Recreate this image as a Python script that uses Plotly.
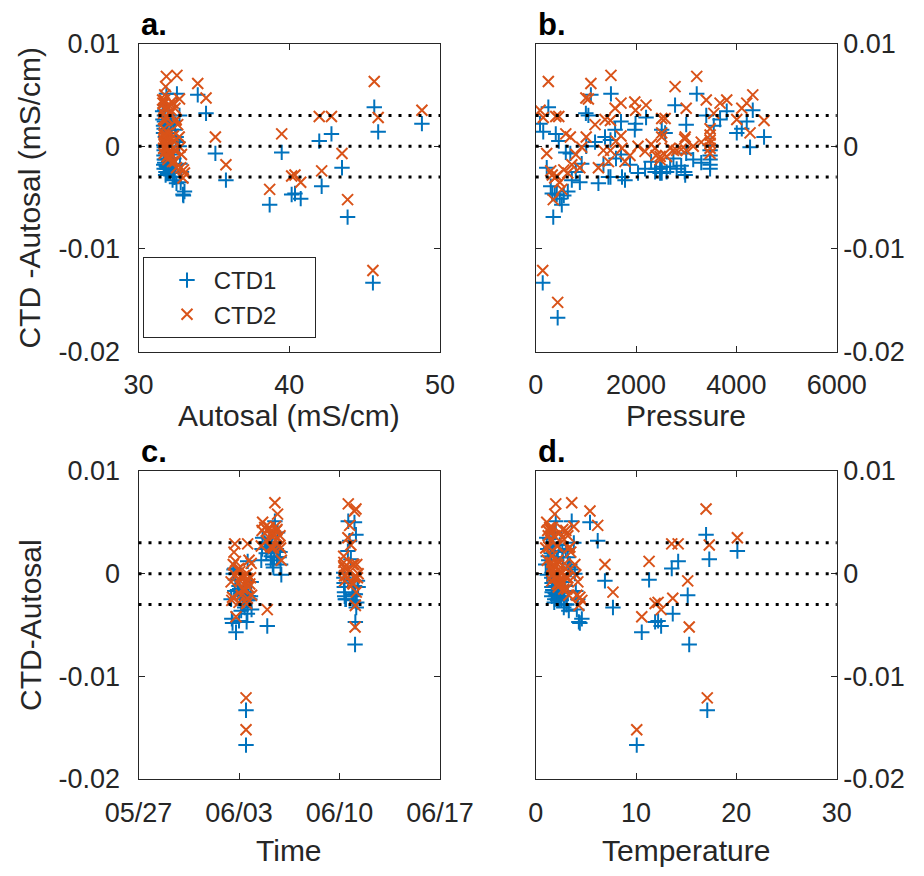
import plotly.graph_objects as go

# ---------------------------------------------------------
# Bottle samples: CTD minus Autosal conductivity residuals
# ---------------------------------------------------------

autosal = [
    33.93, 34.48, 35.10, 35.80, 38.70, 38.50, 39.50, 40.16, 40.38, 40.76,
    41.99, 42.15, 42.80, 43.50, 43.87, 45.64, 45.90, 45.55, 48.80,
    32.55, 31.80, 31.62, 31.60, 31.66, 31.70, 31.72, 31.74, 31.71, 31.78,
    32.30, 32.18, 32.16, 32.42, 32.46, 32.50, 31.92, 31.80, 31.90, 31.72,
    31.66, 32.02, 32.72,
    31.68, 31.70, 31.69, 31.71, 31.67, 31.70, 31.85, 31.96, 31.93, 31.92,
    31.86, 31.88, 31.80, 31.81, 31.77, 31.82, 31.98, 32.95,
    32.70, 32.60, 32.75, 32.52, 32.47, 32.40, 32.39, 32.30, 32.26, 32.20,
    32.10, 32.05, 31.95, 31.94, 31.90, 31.85, 32.35, 32.00, 31.84, 31.74,
    32.85, 32.31, 33.05, 32.98, 32.80,
]

pressure = [
    1100, 1000, 690, 720, 520, 438, 600, 420, 330, 480,
    460, 300, 400, 220, 350, 252, 150, 140, 86,
    1500, 2778, 3675, 3808, 4008, 4108, 4207, 4327, 4273, 4552,
    1700, 1975, 1990, 1583, 1490, 1382, 2512, 3000, 2580, 3400,
    3550, 2200, 1050,
    3476, 3476, 3476, 3476, 3476, 3476, 3210, 2400, 2480, 2512,
    2745, 2680, 2980, 3000, 3140, 2970, 2380, 380,
    1007, 1183, 917, 1250, 1350, 1450, 1490, 1720, 1780, 1880,
    2040, 2180, 2480, 2512, 2610, 2810, 1600, 2300, 2900, 3300,
    800, 1700, 640, 560, 880,
]

sample_time = [
    "2018-06-11 01:00", "2018-06-10 17:00", "2018-06-10 22:00", "2018-06-11 04:00",
    "2018-06-02 19:00", "2018-06-03 11:45", "2018-06-02 18:00", "2018-06-03 12:45",
    "2018-06-03 00:00", "2018-06-04 23:15", "2018-06-02 17:00", "2018-06-03 14:00",
    "2018-06-03 14:30", "2018-06-03 02:00", "2018-06-11 02:00", "2018-06-11 03:30",
    "2018-06-10 19:00", "2018-06-03 11:45", "2018-06-10 14:00",
    "2018-06-05 12:00", "2018-06-05 16:30", "2018-06-05 00:00", "2018-06-05 02:30",
    "2018-06-05 05:00", "2018-06-05 06:00", "2018-06-04 14:30", "2018-06-04 15:30",
    "2018-06-05 22:45", "2018-06-05 21:30", "2018-06-05 14:30", "2018-06-05 15:30",
    "2018-06-05 16:45", "2018-06-05 10:45", "2018-06-05 09:30", "2018-06-05 08:30",
    "2018-06-05 19:00", "2018-06-05 20:30", "2018-06-04 13:15", "2018-06-04 19:00",
    "2018-06-04 21:30", "2018-06-05 07:00", "2018-06-05 13:15",
    "2018-06-10 07:00", "2018-06-10 07:20", "2018-06-10 07:40", "2018-06-10 08:00",
    "2018-06-10 08:20", "2018-06-10 08:40", "2018-06-10 14:40", "2018-06-10 21:30",
    "2018-06-10 22:50", "2018-06-11 00:00", "2018-06-11 01:10", "2018-06-11 02:30",
    "2018-06-11 04:50", "2018-06-11 06:00", "2018-06-11 07:10", "2018-06-10 09:40",
    "2018-06-10 10:50", "2018-06-11 02:30",
    "2018-06-02 14:24", "2018-06-02 15:36", "2018-06-02 16:48", "2018-06-03 03:36",
    "2018-06-03 04:48", "2018-06-03 06:00", "2018-06-03 07:12", "2018-06-03 08:24",
    "2018-06-03 09:36", "2018-06-03 10:48", "2018-06-03 13:12", "2018-06-03 14:24",
    "2018-06-03 15:36", "2018-06-03 16:48", "2018-06-03 18:00", "2018-06-03 19:12",
    "2018-06-03 00:00", "2018-06-03 01:12", "2018-06-03 02:24", "2018-06-02 21:36",
    "2018-06-02 10:48", "2018-06-03 20:24", "2018-06-02 12:00", "2018-06-02 13:12",
    "2018-06-03 21:00",
]

temperature = [
    5.41, 6.18, 6.90, 7.70, 10.57, 10.07, 11.30, 11.90, 12.20, 12.50,
    13.56, 13.66, 14.20, 15.15, 15.30, 16.98, 17.30, 17.10, 20.10,
    3.59, 1.90, 1.50, 1.40, 1.30, 1.25, 1.20, 1.10, 1.15, 1.00,
    3.00, 2.70, 2.65, 3.20, 3.30, 3.40, 2.20, 1.85, 2.10, 1.65,
    1.55, 2.40, 3.80,
    1.62, 1.60, 1.63, 1.61, 1.64, 1.60, 2.00, 2.30, 2.25, 2.20,
    2.00, 2.05, 1.85, 1.85, 1.75, 1.90, 2.35, 4.30,
    3.90, 3.50, 4.00, 3.30, 3.20, 3.10, 3.05, 2.85, 2.80, 2.70,
    2.55, 2.45, 2.25, 2.20, 2.15, 2.00, 2.95, 2.35, 1.95, 1.70,
    4.20, 2.90, 4.60, 4.40, 4.10,
]

ctd1_diff = [
    0.0050, 0.0032, -0.0007, -0.0033, -0.0057, -0.0167, -0.0006, -0.0047, -0.0046, -0.0051,
    0.0005, -0.0039, 0.0012, -0.0021, -0.0069, 0.0038, 0.0014, -0.0133, 0.0022,
    0.0051, 0.0040, 0.0026, 0.0034, 0.0013, 0.0017, 0.0024, 0.0035, -0.0001, 0.0009,
    0.0024, 0.0016, 0.0022, 0.0016, 0.0006, 0.0009, 0.0016, 0.0021, 0.0013, 0.0030,
    0.0020, 0.0028, 0.0030,
    0.0001, -0.0004, -0.0009, -0.0013, -0.0018, -0.0022, 0.0051, -0.0022, -0.0026, -0.0020,
    -0.0012, -0.0020, -0.0028, -0.0007, -0.0013, -0.0025, -0.0025, -0.0047,
    0.0000, 0.0004, -0.0017, -0.0036, -0.0018, -0.0030, -0.0030, -0.0030, -0.0033, -0.0018,
    -0.0026, -0.0022, -0.0022, -0.0026, -0.0025, -0.0022, -0.0012, -0.0015, -0.0019, -0.0016,
    -0.0025, -0.0008, -0.0044, -0.0048, -0.0035,
]

ctd2_diff = [
    0.0061, 0.0047, 0.0009, -0.0018, -0.0042, -0.0152, 0.0012, -0.0029, -0.0028, -0.0035,
    0.0029, -0.0024, 0.0029, -0.0007, -0.0052, 0.0063, 0.0028, -0.0121, 0.0035,
    0.0069, 0.0058, 0.0042, 0.0045, 0.0026, 0.0037, 0.0042, 0.0050, 0.0013, 0.0025,
    0.0042, 0.0043, 0.0035, 0.0037, 0.0025, 0.0026, 0.0027, 0.0037, 0.0027, 0.0045,
    0.0032, 0.0040, 0.0046,
    0.0017, 0.0011, 0.0006, 0.0003, -0.0002, -0.0007, 0.0068, -0.0009, -0.0010, 0.0009,
    -0.0004, -0.0002, 0.0009, -0.0004, 0.0000, 0.0007, -0.0002, -0.0031,
    0.0009, 0.0021, -0.0001, -0.0021, -0.0004, -0.0015, -0.0004, -0.0002, -0.0015, -0.0009,
    0.0000, -0.0005, -0.0013, 0.0013, -0.0010, -0.0004, 0.0005, 0.0002, -0.0003, 0.0004,
    -0.0008, 0.0010, -0.0026, -0.0023, -0.0021,
]

REF_LEVELS = [-0.003, 0, 0.003]

Y_TICKS = [-0.02, -0.01, 0, 0.01]
Y_TICK_TEXT = ["-0.02", "-0.01", "0", "0.01"]

AUTOSAL_TICKS = [30, 40, 50]
PRESSURE_TICKS = [0, 2000, 4000, 6000]
TIME_TICKS = ["2018-05-27", "2018-06-03", "2018-06-10", "2018-06-17"]
TIME_TICK_TEXT = ["05/27", "06/03", "06/10", "06/17"]
TEMPERATURE_TICKS = [0, 10, 20, 30]


# ---------------------------------------------------------
# Styling and page geometry
# ---------------------------------------------------------

FONT = "Liberation Sans, Arial, sans-serif"
INK = "#262626"
BLUE = "#0072BD"
ORANGE = "#D95319"

W, H = 924, 876
PAGE_MARGIN = 8  # the html body margin shifts the plot by this much


def px_x(p):
    """Screen x pixel -> paper coordinate."""
    return (p - PAGE_MARGIN) / W


def px_y(p):
    """Screen y pixel -> paper coordinate."""
    return 1 - (p - PAGE_MARGIN) / H


LEFT_DOMAIN = [px_x(138.5), px_x(440)]
RIGHT_DOMAIN = [px_x(535.7), px_x(836.7)]
TOP_DOMAIN = [px_y(351.7), px_y(43.5)]
BOTTOM_DOMAIN = [px_y(779), px_y(471)]

axis_style = dict(
    showline=True,
    linecolor=INK,
    linewidth=1.3,
    mirror="allticks",
    ticks="inside",
    ticklen=6,
    tickwidth=1.3,
    tickcolor=INK,
    showgrid=False,
    zeroline=False,
    automargin=False,
    tickfont=dict(family=FONT, size=27, color=INK),
)


# ---------------------------------------------------------
# Figure
# ---------------------------------------------------------

panels = [
    ("", autosal),
    ("2", pressure),
    ("3", sample_time),
    ("4", temperature),
]

NB = "\u00a0"

fig = go.Figure()

for i, (ax, x_values) in enumerate(panels):
    fig.add_trace(
        go.Scatter(
            x=x_values,
            y=ctd1_diff,
            mode="markers",
            name=NB + "CTD1" + NB * 5,
            marker=dict(symbol="cross-thin", size=11, line=dict(width=2, color=BLUE)),
            xaxis="x" + ax,
            yaxis="y" + ax,
            showlegend=(i == 0),
        )
    )
    fig.add_trace(
        go.Scatter(
            x=x_values,
            y=ctd2_diff,
            mode="markers",
            name=NB + "CTD2" + NB * 5,
            marker=dict(symbol="x-thin", size=11, line=dict(width=2, color=ORANGE)),
            xaxis="x" + ax,
            yaxis="y" + ax,
            showlegend=(i == 0),
        )
    )

    # Dotted reference lines at 0 and +/- 0.003
    for level in REF_LEVELS:
        fig.add_shape(
            type="line",
            xref="x" + ax + " domain",
            yref="y" + ax,
            x0=0,
            x1=1,
            y0=level,
            y1=level,
            line=dict(color="black", width=3, dash="3px,7px"),
        )

y_axis = dict(axis_style, range=[-0.02, 0.01], tickvals=Y_TICKS, ticktext=Y_TICK_TEXT)

fig.update_layout(
    width=W,
    height=H,
    margin=dict(l=0, r=0, t=0, b=0),
    paper_bgcolor="white",
    plot_bgcolor="white",
    font=dict(family=FONT, color=INK),
    xaxis=dict(axis_style, domain=LEFT_DOMAIN, anchor="y", range=[30, 50],
               tickvals=AUTOSAL_TICKS, ticklabelstandoff=9),
    yaxis=dict(y_axis, domain=TOP_DOMAIN, anchor="x", ticklabelstandoff=12),
    xaxis2=dict(axis_style, domain=RIGHT_DOMAIN, anchor="y2", range=[0, 6000],
                tickvals=PRESSURE_TICKS, ticktext=[str(v) for v in PRESSURE_TICKS],
                ticklabelstandoff=9),
    yaxis2=dict(y_axis, domain=TOP_DOMAIN, anchor="x2", side="right"),
    xaxis3=dict(axis_style, domain=LEFT_DOMAIN, anchor="y3", type="date",
                range=[TIME_TICKS[0], TIME_TICKS[-1]],
                tickvals=TIME_TICKS, ticktext=TIME_TICK_TEXT, ticklabelstandoff=9),
    yaxis3=dict(y_axis, domain=BOTTOM_DOMAIN, anchor="x3", ticklabelstandoff=12),
    xaxis4=dict(axis_style, domain=RIGHT_DOMAIN, anchor="y4", range=[0, 30],
                tickvals=TEMPERATURE_TICKS, ticklabelstandoff=9),
    yaxis4=dict(y_axis, domain=BOTTOM_DOMAIN, anchor="x4", side="right"),
    legend=dict(
        x=px_x(143),
        y=px_y(257),
        xanchor="left",
        yanchor="top",
        bgcolor="white",
        bordercolor=INK,
        borderwidth=1,
        indentation=23,
        font=dict(family=FONT, size=24, color=INK),
        tracegroupgap=0,
    ),
)

# Axis titles
title_font = dict(family=FONT, size=30, color=INK)
x_titles = [
    ("Autosal (mS/cm)", sum(LEFT_DOMAIN) / 2, px_y(415)),
    ("Pressure", sum(RIGHT_DOMAIN) / 2, px_y(415)),
    ("Time", sum(LEFT_DOMAIN) / 2, px_y(850)),
    ("Temperature", sum(RIGHT_DOMAIN) / 2, px_y(850)),
]
for text, x, y in x_titles:
    fig.add_annotation(text=text, x=x, y=y, xref="paper", yref="paper",
                       xanchor="center", yanchor="middle",
                       showarrow=False, font=title_font)

y_titles = [
    ("CTD -Autosal (mS/cm)", sum(TOP_DOMAIN) / 2),
    ("CTD-Autosal", sum(BOTTOM_DOMAIN) / 2),
]
for text, y in y_titles:
    fig.add_annotation(text=text, x=px_x(30), y=y, xref="paper", yref="paper",
                       xanchor="center", yanchor="middle",
                       textangle=-90, showarrow=False, font=title_font)

# Panel letters
letters = [
    ("a.", LEFT_DOMAIN[0], TOP_DOMAIN[1]),
    ("b.", RIGHT_DOMAIN[0], TOP_DOMAIN[1]),
    ("c.", LEFT_DOMAIN[0], BOTTOM_DOMAIN[1]),
    ("d.", RIGHT_DOMAIN[0], BOTTOM_DOMAIN[1]),
]
for text, x, y in letters:
    fig.add_annotation(text="<b>" + text + "</b>", x=x, y=y, xref="paper", yref="paper",
                       xanchor="left", yanchor="bottom", showarrow=False,
                       font=dict(family=FONT, size=31, color="black"))

fig.write_html("out.html")
